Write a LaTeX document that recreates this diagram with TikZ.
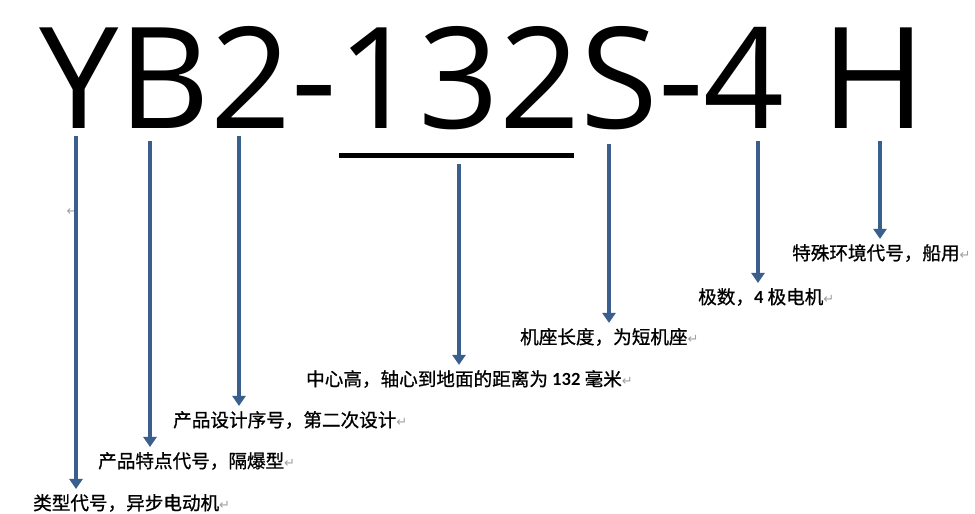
\documentclass[tikz,border=0pt]{standalone}
\usepackage{fontspec}
\setmainfont{Open Sans}
\newfontfamily\cjk[FakeBold=0.8]{Noto Sans CJK SC}
\newfontfamily\numf{Carlito}
\newfontfamily\symf{DejaVu Sans}
\usetikzlibrary{arrows.meta}
\definecolor{arrblue}{HTML}{3A5F8D}
\definecolor{markgray}{HTML}{A0A0A0}
\newcommand{\pmark}{{\symf\fontsize{13}{13}\selectfont\textcolor{markgray}{↵}}}
\tikzset{
  arr/.style={draw=arrblue, line width=4.5pt, -{Triangle[width=13pt,length=10pt]}, shorten >=0pt},
  lbl/.style={anchor=west, inner xsep=0pt, inner ysep=5pt, font=\cjk\fontsize{18.6}{18.6}\selectfont},
  big/.style={anchor=base west, inner sep=0pt, font=\fontsize{141}{141}\selectfont}
}
\begin{document}
\begin{tikzpicture}[x=1pt,y=-1pt]
\useasboundingbox[fill=white] (0,0) rectangle (975,514);
% title
\node[big, xscale=1.005] (title) at (39,128.5) {YB2-132S-4 H};
\draw[line width=5pt] (339,155) coordinate (ul1) -- (574,155) coordinate (ul2);
% stray paragraph mark
\node[inner sep=0pt] (stray) at (72,211) {\pmark};
% labels
\node[lbl] (lY) at (33,503) {类型代号，异步电动机\pmark};
\node[lbl] (lB) at (98,461) {产品特点代号，隔爆型\pmark};
\node[lbl] (l2) at (173,420) {产品设计序号，第二次设计\pmark};
\node[lbl] (l132) at (306,379) {中心高，轴心到地面的距离为 {\numf\bfseries 132} 毫米\pmark};
\node[lbl] (lS) at (520,337) {机座长度，为短机座\pmark};
\node[lbl] (l4) at (698,297) {极数，{\numf\bfseries 4} 极电机\pmark};
\node[lbl] (lH) at (792,253) {特殊环境代号，船用\pmark};
% arrow starts
\coordinate (sY) at (76,136);
\coordinate (sB) at (150,141);
\coordinate (s2) at (239,136);
\coordinate (s132) at (459,164);
\coordinate (sS) at (609,144);
\coordinate (s4) at (758,141);
\coordinate (sH) at (880,141);
% arrows
\draw[arr] (sY) -- (sY |- lY.north);
\draw[arr] (sB) -- (sB |- lB.north);
\draw[arr] (s2) -- (s2 |- l2.north);
\draw[arr] (s132) -- (s132 |- l132.north);
\draw[arr] (sS) -- (sS |- lS.north);
\draw[arr] (s4) -- (s4 |- l4.north);
\draw[arr] (sH) -- (sH |- lH.north);
\end{tikzpicture}
\end{document}
